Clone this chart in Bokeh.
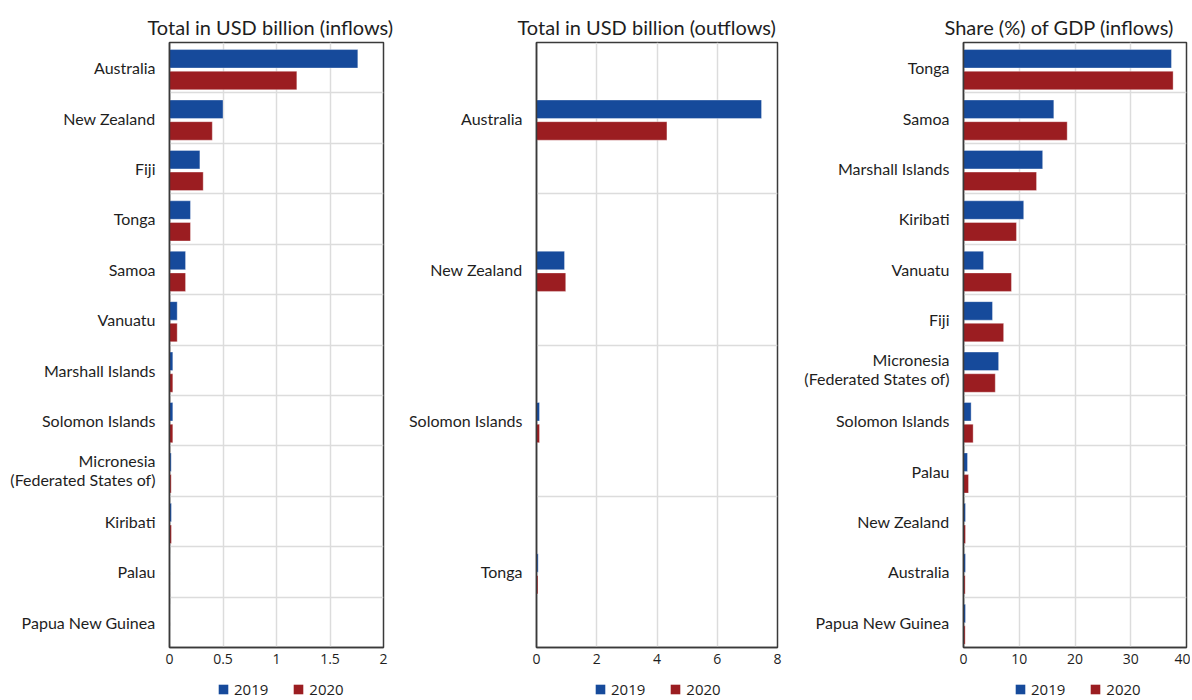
from bokeh.plotting import figure
from bokeh.layouts import row, column
from bokeh.models import Range1d, FixedTicker, Legend, LegendItem, ColumnDataSource
from bokeh.embed import file_html
from bokeh.resources import INLINE

# ---------------- data ----------------
inflow_countries = ["Australia", "New Zealand", "Fiji", "Tonga", "Samoa", "Vanuatu",
                    "Marshall Islands", "Solomon Islands", "Micronesia\n(Federated States of)",
                    "Kiribati", "Palau", "Papua New Guinea"]
inflow_2019 = [1.76, 0.50, 0.284, 0.196, 0.15, 0.072, 0.031, 0.031, 0.016, 0.018, 0.005, 0.004]
inflow_2020 = [1.19, 0.40, 0.315, 0.196, 0.15, 0.072, 0.031, 0.031, 0.016, 0.018, 0.005, 0.004]

outflow_countries = ["Australia", "New Zealand", "Solomon Islands", "Tonga"]
outflow_2019 = [7.47, 0.93, 0.10, 0.056]
outflow_2020 = [4.33, 0.97, 0.10, 0.05]

gdp_countries = ["Tonga", "Samoa", "Marshall Islands", "Kiribati", "Vanuatu", "Fiji",
                 "Micronesia\n(Federated States of)", "Solomon Islands", "Palau",
                 "New Zealand", "Australia", "Papua New Guinea"]
gdp_2019 = [37.3, 16.2, 14.2, 10.8, 3.6, 5.2, 6.3, 1.37, 0.72, 0.36, 0.36, 0.36]
gdp_2020 = [37.6, 18.6, 13.1, 9.5, 8.6, 7.2, 5.7, 1.73, 0.9, 0.36, 0.3, 0.3]

titles = ["Total in USD billion (inflows)", "Total in USD billion (outflows)", "Share (%) of GDP (inflows)"]
x_maxes = [2, 8, 40]
x_ticks = [[0, 0.5, 1, 1.5, 2], [0, 2, 4, 6, 8], [0, 10, 20, 30, 40]]
series_labels = ["2019", "2020"]

# ---------------- style ----------------
BLUE = "#164a9b"
RED = "#9b1d21"
GRID = "#dcdcdc"
FRAME = "#3a3a3a"
TEXT = "#1e1e1e"
FONT = "Lato"
TICKFONT = "Open Sans"

FRAME_H = 605
MAIN_H = 673
LEG_H = 27
LABEL_SIZE = "16px"


def make_panel(title, cats, v19, v20, xmax, xticks, width, bl, br, title_off):
    n = len(cats)
    band_px = FRAME_H / n
    ys = [n - 1 - i for i in range(n)]
    h = 18.5 / band_px
    off_b = 8.9 / band_px
    off_r = -12.8 / band_px
    src = ColumnDataSource(dict(
        yb=[y + off_b for y in ys], yr=[y + off_r for y in ys], v19=v19, v20=v20))
    p = figure(width=width, height=MAIN_H, output_backend="svg", toolbar_location=None,
               x_range=Range1d(0, xmax), y_range=Range1d(-0.5, n - 0.5),
               min_border_left=bl, min_border_right=br, min_border_top=42,
               min_border_bottom=MAIN_H - 42 - FRAME_H)
    p.title.text = title
    p.title.align = "left"
    p.title.offset = title_off
    p.title.text_font = FONT
    p.title.text_font_size = "20px"
    p.title.text_font_style = "normal"
    p.title.text_color = TEXT
    p.title.standoff = 8

    p.hbar(y="yb", right="v19", left=0, height=h, source=src, fill_color=BLUE,
           line_color="white", line_alpha=0.35, line_width=1)
    p.hbar(y="yr", right="v20", left=0, height=h, source=src, fill_color=RED,
           line_color="white", line_alpha=0.35, line_width=1)

    p.outline_line_color = FRAME
    p.outline_line_width = 1.5
    p.background_fill_color = "white"
    p.border_fill_color = "white"

    # x axis
    p.xaxis.ticker = FixedTicker(ticks=xticks)
    p.xaxis.axis_line_color = FRAME
    p.xaxis.axis_line_width = 1.5
    p.xaxis.major_tick_line_color = None
    p.xaxis.minor_tick_line_color = None
    p.xaxis.major_tick_out = 0
    p.xaxis.major_label_text_font = TICKFONT
    p.xaxis.major_label_text_font_size = "14px"
    p.xaxis.major_label_text_color = TEXT
    p.xaxis.major_label_standoff = 6

    # y axis: multi-line names become several tick labels around the category centre
    ticks = []
    overrides = {}
    line_px = 19.0
    for y, c in zip(ys, cats):
        lines = c.split("\n")
        k = len(lines)
        for j, line in enumerate(lines):
            dy_px = ((k - 1) / 2 - j) * line_px + (1.0 if k > 1 else 0.0)
            t = y + dy_px / band_px
            ticks.append(t)
            overrides[t] = line
    p.yaxis.ticker = FixedTicker(ticks=ticks)
    p.yaxis.major_label_overrides = overrides
    p.yaxis.axis_line_color = FRAME
    p.yaxis.axis_line_width = 1.5
    p.yaxis.major_tick_line_color = None
    p.yaxis.minor_tick_line_color = None
    p.yaxis.major_tick_out = 0
    p.yaxis.major_label_text_font = FONT
    p.yaxis.major_label_text_font_size = LABEL_SIZE
    p.yaxis.major_label_text_color = TEXT
    p.yaxis.major_label_standoff = 14

    # grids
    p.xgrid.ticker = FixedTicker(ticks=xticks)
    p.xgrid.grid_line_color = GRID
    p.xgrid.grid_line_width = 1.5
    p.ygrid.ticker = FixedTicker(ticks=[i + 0.5 for i in range(n - 1)])
    p.ygrid.grid_line_color = GRID
    p.ygrid.grid_line_width = 1.5
    return p


def make_legend(width, legend_x):
    q = figure(width=width, height=LEG_H, output_backend="svg", toolbar_location=None,
               x_range=Range1d(0, 1), y_range=Range1d(0, 1),
               x_axis_type=None, y_axis_type=None,
               min_border_left=0, min_border_right=0, min_border_top=0, min_border_bottom=0)
    q.outline_line_color = None
    q.xgrid.visible = False
    q.ygrid.visible = False
    # zero-size proxy glyphs, used only to give the legend its colour swatches
    proxy = ColumnDataSource(dict(y=[0], r=[0]))
    rb = q.hbar(y="y", right="r", left=0, height=0, source=proxy, fill_color=BLUE, line_color=None)
    rr = q.hbar(y="y", right="r", left=0, height=0, source=proxy, fill_color=RED, line_color=None)
    legend = Legend(items=[LegendItem(label=series_labels[0], renderers=[rb]),
                           LegendItem(label=series_labels[1], renderers=[rr])],
                    orientation="horizontal", location=(legend_x, 1),
                    border_line_color=None, background_fill_alpha=0,
                    glyph_width=12, glyph_height=12, spacing=24, padding=2, margin=0,
                    label_text_font=TICKFONT, label_text_font_size="15px",
                    label_text_color=TEXT, label_standoff=5)
    q.add_layout(legend, "center")
    return q


W1, W2, W3 = 400, 390, 400
p1 = make_panel(titles[0], inflow_countries, inflow_2019, inflow_2020, x_maxes[0], x_ticks[0], W1, 169, 17, -22)
p2 = make_panel(titles[1], outflow_countries, outflow_2019, outflow_2020, x_maxes[1], x_ticks[1], W2, 136, 13, -19)
p3 = make_panel(titles[2], gdp_countries, gdp_2019, gdp_2020, x_maxes[2], x_ticks[2], W3, 173, 4, -19)

l1 = make_legend(W1, 217)
l2 = make_legend(W2, 194)
l3 = make_legend(W3, 224)

layout = column(row(p1, p2, p3), row(l1, l2, l3), spacing=0)
open("out.html", "w").write(file_html(layout, INLINE))
